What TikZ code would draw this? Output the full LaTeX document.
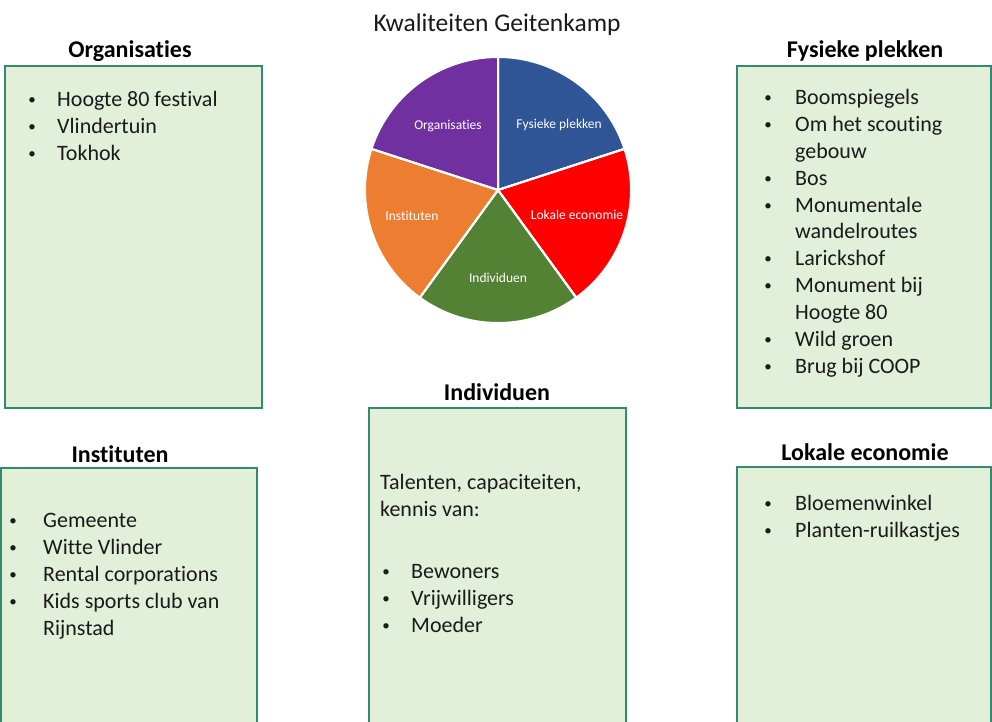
\documentclass[tikz,border=0pt]{standalone}
\usepackage{fontspec}
\setmainfont[Ligatures=NoCommon]{Carlito}
\usetikzlibrary{calc}
\definecolor{boxfill}{HTML}{E2EFD9}
\definecolor{boxline}{RGB}{52,138,108}
\definecolor{pblue}{HTML}{2F5597}
\definecolor{pred}{HTML}{FF0000}
\definecolor{pgreen}{HTML}{548235}
\definecolor{porange}{HTML}{ED7D31}
\definecolor{ppurple}{HTML}{7030A0}
\definecolor{txt}{HTML}{1A1A1A}
\tikzset{
  qbox/.style={fill=boxfill, draw=boxline, line width=2pt},
  qtitle/.style={anchor=base, inner sep=0pt, text=black, font=\fontsize{24}{29}\selectfont\bfseries},
  item/.style={anchor=base west, inner sep=0pt, text=txt, font=\fontsize{22}{27}\selectfont},
  bul/.style={anchor=base, inner sep=0pt, text=txt, font=\fontsize{15}{18}\selectfont},
  slice/.style={draw=white, line width=2pt, line join=round},
  plabel/.style={inner sep=0pt, text=white, font=\fontsize{13.5}{16}\selectfont},
}
\newcommand{\bl}{\raisebox{2pt}{\textbullet}}
\begin{document}
\begin{tikzpicture}[x=1pt,y=1pt]
\useasboundingbox (0,0) rectangle (992,721);
\fill[white] (0,0) rectangle (992,721);

% title
\node[anchor=base, inner sep=0pt, text=txt, font=\fontsize{25.5}{30}\selectfont] (title) at (497,689) {Kwaliteiten Geitenkamp};

% pie chart
\coordinate (pc) at (498,531);
\fill[slice, fill=pblue]   (pc) -- ($(pc)+(90:133pt)$) arc[start angle=90, end angle=18, radius=133pt] -- cycle;
\fill[slice, fill=pred]    (pc) -- ($(pc)+(18:133pt)$) arc[start angle=18, end angle=-54, radius=133pt] -- cycle;
\fill[slice, fill=pgreen]  (pc) -- ($(pc)+(-54:133pt)$) arc[start angle=-54, end angle=-126, radius=133pt] -- cycle;
\fill[slice, fill=porange] (pc) -- ($(pc)+(-126:133pt)$) arc[start angle=-126, end angle=-198, radius=133pt] -- cycle;
\fill[slice, fill=ppurple] (pc) -- ($(pc)+(162:133pt)$) arc[start angle=162, end angle=90, radius=133pt] -- cycle;
\draw[slice] (pc) -- ($(pc)+(90:133pt)$);
\draw[slice] (pc) -- ($(pc)+(18:133pt)$);
\draw[slice] (pc) -- ($(pc)+(-54:133pt)$);
\draw[slice] (pc) -- ($(pc)+(-126:133pt)$);
\draw[slice] (pc) -- ($(pc)+(162:133pt)$);
\node[plabel] (lorg) at (448,595) {Organisaties};
\node[plabel] (lfys) at (559,596) {Fysieke plekken};
\node[plabel] (llok) at (577,506) {Lokale economie};
\node[plabel] (lins) at (412,505) {Instituten};
\node[plabel] (lind) at (498,443) {Individuen};

% boxes
\draw[qbox] (5,655) rectangle (262,313);
\draw[qbox] (737,655) rectangle (991,313);
\draw[qbox] (1,253) rectangle (257,-5);
\draw[qbox] (369,313) rectangle (626,-5);
\draw[qbox] (737,254) rectangle (991,-5);

% box titles
\node[qtitle] (torg) at (130,663) {Organisaties};
\node[qtitle] (tfys) at (865,663) {Fysieke plekken};
\node[qtitle] (tins) at (120,259) {Instituten};
\node[qtitle] (tind) at (497,321) {Individuen};
\node[qtitle] (tlok) at (865,261) {Lokale economie};

% Organisaties items
\node[bul] (ob1) at (32,614) {\bl};
\node[bul] (ob2) at (32,587) {\bl};
\node[bul] (ob3) at (32,560) {\bl};
\node[item] (oi1) at (57,614) {Hoogte 80 festival};
\node[item] (oi2) at (57,587) {Vlindertuin};
\node[item] (oi3) at (57,560) {Tokhok};

% Fysieke plekken items
\node[bul] (fb1) at (768,616) {\bl};
\node[bul] (fb2) at (768,589.2) {\bl};
\node[bul] (fb4) at (768,535.6) {\bl};
\node[bul] (fb5) at (768,508.8) {\bl};
\node[bul] (fb7) at (768,455.2) {\bl};
\node[bul] (fb8) at (768,428.4) {\bl};
\node[bul] (fb10) at (768,374.8) {\bl};
\node[bul] (fb11) at (768,348) {\bl};
\node[item] (fi1) at (795,616) {Boomspiegels};
\node[item] (fi2) at (795,589.2) {Om het scouting};
\node[item] (fi3) at (795,562.4) {gebouw};
\node[item] (fi4) at (795,535.6) {Bos};
\node[item] (fi5) at (795,508.8) {Monumentale};
\node[item] (fi6) at (795,482) {wandelroutes};
\node[item] (fi7) at (795,455.2) {Larickshof};
\node[item] (fi8) at (795,428.4) {Monument bij};
\node[item] (fi9) at (795,401.6) {Hoogte 80};
\node[item] (fi10) at (795,374.8) {Wild groen};
\node[item] (fi11) at (795,348) {Brug bij COOP};

% Instituten items
\node[bul] (ib1) at (13,194) {\bl};
\node[bul] (ib2) at (13,167) {\bl};
\node[bul] (ib3) at (13,140) {\bl};
\node[bul] (ib4) at (13,113) {\bl};
\node[item] (ii1) at (43,194) {Gemeente};
\node[item] (ii2) at (43,167) {Witte Vlinder};
\node[item] (ii3) at (43,140) {Rental corporations};
\node[item] (ii4) at (43,113) {Kids sports club van};
\node[item] (ii5) at (43,86) {Rijnstad};

% Individuen
\node[item] (di1) at (380,232) {Talenten, capaciteiten,};
\node[item] (di2) at (380,205) {kennis van:};
\node[bul] (db1) at (386,143) {\bl};
\node[bul] (db2) at (386,116) {\bl};
\node[bul] (db3) at (386,89) {\bl};
\node[item] (di3) at (411,143) {Bewoners};
\node[item] (di4) at (411,116) {Vrijwilligers};
\node[item] (di5) at (411,89) {Moeder};

% Lokale economie
\node[bul] (lb1) at (768,211) {\bl};
\node[bul] (lb2) at (768,184) {\bl};
\node[item] (li1) at (795,211) {Bloemenwinkel};
\node[item] (li2) at (795,184) {Planten-ruilkastjes};
\end{tikzpicture}
\end{document}
